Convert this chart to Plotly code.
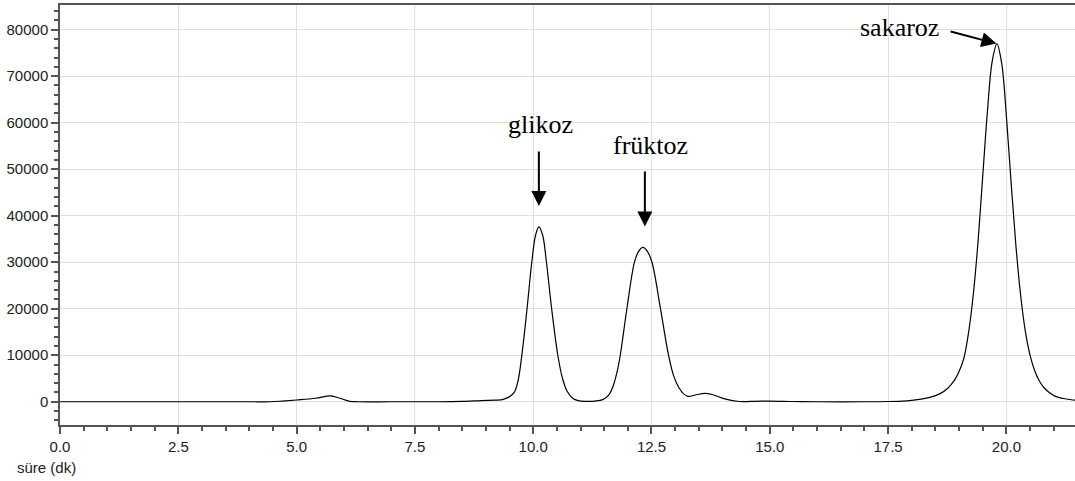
import plotly.graph_objects as go

# Chromatogram trace: retention time (min) and detector signal
time_min = [
    0.0, 2.0, 4.0, 4.45, 4.7, 5.0, 5.4, 5.72, 5.9, 6.1, 6.3, 7.0, 8.0, 8.5, 8.9,
    9.2, 9.35, 9.5, 9.6, 9.68, 9.76, 9.87, 9.97, 10.05, 10.12, 10.2, 10.28,
    10.39, 10.52, 10.62, 10.72, 10.84, 10.95, 11.1, 11.3, 11.47, 11.6, 11.69,
    11.77, 11.84, 11.98, 12.14, 12.23, 12.32, 12.41, 12.51, 12.69, 12.86, 12.97,
    13.08, 13.18, 13.27, 13.45, 13.62, 13.8, 14.05, 14.36, 14.7, 15.0, 15.5,
    16.0, 17.0, 17.5, 17.8, 18.0, 18.2, 18.4, 18.6, 18.75, 18.9, 19.0, 19.1,
    19.2, 19.3, 19.4, 19.5, 19.6, 19.7, 19.8, 19.9, 20.0, 20.1, 20.2, 20.3,
    20.4, 20.5, 20.6, 20.7, 20.8, 20.92, 21.05, 21.2, 21.37, 21.45,
]
signal = [
    0, 0, 0, 0, 150, 380, 750, 1250, 800, 150, 0, 0, 0, 80, 250,
    350, 450, 1100, 2000, 4500, 10000, 20000, 30000, 35800, 37600, 35800, 30000,
    20000, 10000, 5000, 2200, 700, 250, 100, 150, 450, 1500, 3400,
    6300, 10000, 20000, 30000, 32400, 33200, 32400, 30000, 20000, 10000, 5500,
    3000, 1700, 1150, 1500, 1800, 1500, 600, 50, 100, 150, 50,
    0, 0, 50, 150, 300, 550, 1000, 1750, 2800, 4600, 6500, 9300,
    14800, 23000, 34300, 48500, 62500, 73200, 76950, 72800, 61400, 47100, 33700, 23000,
    15200, 10000, 6600, 4400, 2950, 1860, 1100, 700, 430, 350,
]

# Peak labels: name, label position, arrow tail and arrow tip
peak_names = ["glikoz", "früktoz", "sakaroz"]
label_x = [10.15, 12.47, 17.75]
label_y = [59700, 55200, 80400]
arrow_tail_x = [10.12, 12.36, 18.79]
arrow_tail_y = [54100, 49800, 79700]
arrow_tip_x = [10.12, 12.36, 19.79]
arrow_tip_y = [42100, 37700, 77000]

x_tick_vals = [0.0, 2.5, 5.0, 7.5, 10.0, 12.5, 15.0, 17.5, 20.0]
x_tick_text = ["0.0", "2.5", "5.0", "7.5", "10.0", "12.5", "15.0", "17.5", "20.0"]
y_tick_vals = [0, 10000, 20000, 30000, 40000, 50000, 60000, 70000, 80000]
y_tick_text = ["0", "10000", "20000", "30000", "40000", "50000", "60000", "70000", "80000"]

SANS = "Liberation Sans, Arial, sans-serif"
SERIF = "Liberation Serif, Times New Roman, serif"

fig = go.Figure()
fig.add_trace(go.Scatter(
    x=time_min, y=signal, mode="lines",
    line=dict(color="black", width=1.2, shape="spline", smoothing=1.0),
    hoverinfo="skip", showlegend=False,
))

annotations = []
for name, lx, ly in zip(peak_names, label_x, label_y):
    annotations.append(dict(
        x=lx, y=ly, xref="x", yref="y", text=name, showarrow=False,
        xanchor="center", yanchor="middle",
        font=dict(family=SERIF, size=26, color="black"),
    ))
for tx, ty, hx, hy in zip(arrow_tail_x, arrow_tail_y, arrow_tip_x, arrow_tip_y):
    annotations.append(dict(
        x=hx, y=hy, xref="x", yref="y", ax=tx, ay=ty, axref="x", ayref="y",
        text="", showarrow=True, arrowhead=2, arrowsize=1.5, arrowwidth=2,
        arrowcolor="black", standoff=0, startstandoff=0,
    ))

# axis title placed below the tick labels, at the left of the figure
W, H = 1075, 481
ML, MR, MT, MB = 60, 0, 5, 56
annotations.append(dict(
    x=(15 - ML) / (W - ML - MR), y=(H - MB - 467) / (H - MT - MB),
    xref="paper", yref="paper", text="süre (dk)", showarrow=False,
    xanchor="left", yanchor="middle",
    font=dict(family=SANS, size=15, color="#222"),
))

fig.update_layout(
    width=W, height=H,
    margin=dict(l=ML, r=MR, t=MT, b=MB),
    paper_bgcolor="white", plot_bgcolor="white",
    font=dict(family=SANS, size=15, color="#222"),
    annotations=annotations,
)

fig.update_xaxes(
    range=[0, 21.45], tickvals=x_tick_vals, ticktext=x_tick_text,
    showgrid=True, gridcolor="#e0e0e0", gridwidth=1, zeroline=False,
    showline=True, linecolor="#555", linewidth=1.5, mirror=True,
    ticks="outside", ticklen=7, tickcolor="#555", tickwidth=1.5,
    minor=dict(dtick=0.5, ticks="outside", ticklen=4, tickcolor="#555", tickwidth=1.5, showgrid=False),
)
fig.update_yaxes(
    range=[-5000, 85300], tickvals=y_tick_vals, ticktext=y_tick_text,
    showgrid=True, gridcolor="#e0e0e0", gridwidth=1, zeroline=False,
    showline=True, linecolor="#555", linewidth=1.5,
    ticks="outside", ticklen=7, tickcolor="#555", tickwidth=1.5,
    minor=dict(dtick=2000, ticks="outside", ticklen=4, tickcolor="#555", tickwidth=1.5, showgrid=False),
)

fig.write_html("out.html")
